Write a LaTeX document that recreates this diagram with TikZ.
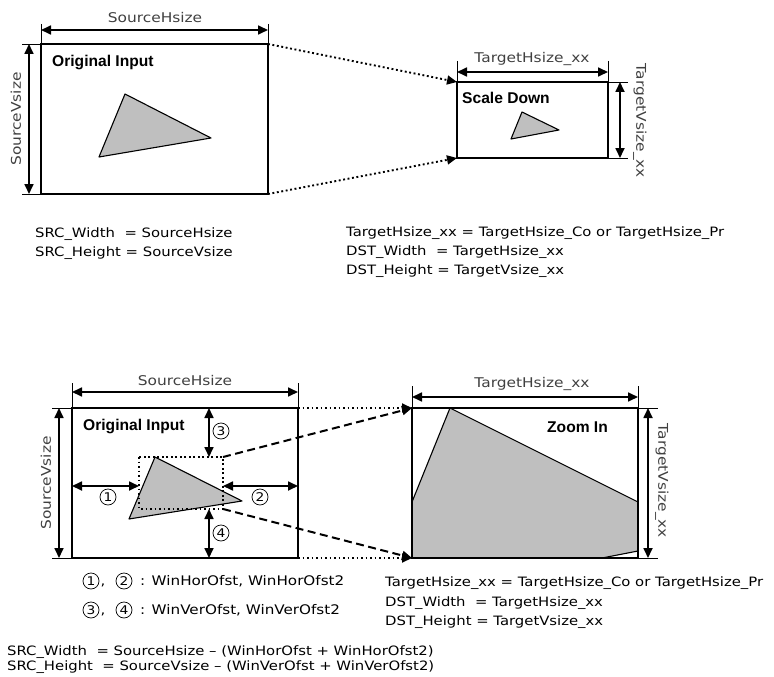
\documentclass[tikz,border=0pt]{standalone}
\usepackage{fontspec}
\setmainfont{DejaVu Sans}[FakeStretch=1.15]
\newfontfamily\titlefont{Liberation Sans}
\usetikzlibrary{arrows.meta,positioning}

\tikzset{
  tiphead/.style={-{Triangle[length=10pt,width=9pt]}},
  dim/.style={{Triangle[length=10pt,width=9pt]}-{Triangle[length=10pt,width=9pt]},line width=1.7pt},
  ext/.style={line width=0.9pt},
  boxline/.style={line width=1.3pt},
  dimlabel/.style={font=\fontsize{13.4}{14}\selectfont,text=black!75,inner sep=0pt},
  boxtitle/.style={font=\titlefont\fontsize{15.6}{16}\selectfont\bfseries,anchor=west,inner sep=0pt},
  eqn/.style={font=\fontsize{12.9}{14}\selectfont,anchor=west,inner sep=0pt},
  dotline/.style={line width=1.9pt,dash pattern=on 1.9pt off 2.6pt},
  dashline/.style={line width=2pt,dash pattern=on 8pt off 4.5pt},
  polyfill/.style={fill=black!25,draw,line width=1.1pt,line join=round},
  numcirc/.style={circle,draw,line width=0.7pt,minimum size=16pt,inner sep=0pt,font=\fontsize{12}{12}\selectfont}
}

\begin{document}
\begin{tikzpicture}[x=1pt,y=-1pt]
\useasboundingbox (0,0) rectangle (774,677);%

%% ---------- scale down ----------
\coordinate (s1TL) at (41,44); \coordinate (s1TR) at (268,44);%
\coordinate (s1BL) at (41,194); \coordinate (s1BR) at (268,194);%
\draw[boxline] (s1TL) rectangle (s1BR);%
\draw[polyfill] (125,94)--(211,138)--(99,157)--cycle;%
\node[boxtitle] (orig1) at (52,63) {Original Input};%
% width
\coordinate (s1hl) at (41,30); \coordinate (s1hr) at (268,30);%
\draw[ext] (41,24)--(s1TL); \draw[ext] (268,24)--(s1TR);%
\draw[dim] (s1hl)--(s1hr);%
\node[dimlabel] (srch1) at (155,18) {SourceHsize};%
% height
\coordinate (s1vt) at (29,44); \coordinate (s1vb) at (29,194);%
\draw[ext] (22,44)--(s1TL); \draw[ext] (22,194)--(s1BL);%
\draw[dim] (s1vt)--(s1vb);%
\node[dimlabel,rotate=90] (srcv1) at (16,119) {SourceVsize};%

\coordinate (d1TL) at (457,82); \coordinate (d1TR) at (608,82);%
\coordinate (d1BL) at (457,158); \coordinate (d1BR) at (608,158);%
\draw[boxline] (d1TL) rectangle (d1BR);%
\draw[polyfill] (522,112)--(559,130)--(511,139)--cycle;%
\node[boxtitle] (down) at (462,98) {Scale Down};%
\coordinate (d1hl) at (457,72); \coordinate (d1hr) at (608,72);%
\draw[ext] (457,61)--(d1TL); \draw[ext] (608,61)--(d1TR);%
\draw[dim] (d1hl)--(d1hr);%
\node[dimlabel] (dsth1) at (532,59) {TargetHsize\_xx};%
\coordinate (d1vt) at (620,82); \coordinate (d1vb) at (620,158);%
\draw[ext] (d1TR)--(628,82); \draw[ext] (d1BR)--(628,158);%
\draw[dim] (d1vt)--(d1vb);%
\node[dimlabel,rotate=-90] (dstv1) at (640,121) {TargetVsize\_xx};%

\draw[dotline,tiphead] (s1TR)--(d1TL);%
\draw[dotline,tiphead] (s1BR)--(d1BL);%

\node[eqn] (eq1) at (35,234) {SRC\_Width\ \ = SourceHsize};%
\node[eqn] (eq2) at (35,253) {SRC\_Height = SourceVsize};%
\node[eqn] (eq3) at (346,233) {TargetHsize\_xx = TargetHsize\_Co or TargetHsize\_Pr};%
\node[eqn] (eq4) at (346,252) {DST\_Width\ \ = TargetHsize\_xx};%
\node[eqn] (eq5) at (346,271) {DST\_Height = TargetVsize\_xx};%

%% ---------- zoom in ----------
\coordinate (s2TL) at (72,408); \coordinate (s2TR) at (298,408);%
\coordinate (s2BL) at (72,558); \coordinate (s2BR) at (298,558);%
\draw[boxline] (s2TL) rectangle (s2BR);%
\draw[polyfill] (155,457)--(242,501)--(129,519)--cycle;%
\coordinate (wTL) at (139,457); \coordinate (wTR) at (223,457);%
\coordinate (wBL) at (139,509); \coordinate (wBR) at (223,509);%
\draw[dotline] (wTL) rectangle (wBR);%
\node[boxtitle] (orig2) at (83,426) {Original Input};%
\coordinate (s2hl) at (72,392); \coordinate (s2hr) at (298,392);%
\draw[ext] (72,383)--(s2TL); \draw[ext] (298,383)--(s2TR);%
\draw[dim] (s2hl)--(s2hr);%
\node[dimlabel] (srch2) at (185,381) {SourceHsize};%
\coordinate (s2vt) at (59,408); \coordinate (s2vb) at (59,558);%
\draw[ext] (52,408)--(s2TL); \draw[ext] (52,558)--(s2BL);%
\draw[dim] (s2vt)--(s2vb);%
\node[dimlabel,rotate=90] (srcv2) at (46,483) {SourceVsize};%
% window offsets
\coordinate (o1l) at (72,486); \coordinate (o1r) at (139,486);%
\coordinate (o2l) at (223,486); \coordinate (o2r) at (298,486);%
\coordinate (o3t) at (209,408); \coordinate (o3b) at (209,457);%
\coordinate (o4t) at (209,509); \coordinate (o4b) at (209,558);%
\draw[dim] (o1l)--(o1r);%
\draw[dim] (o2l)--(o2r);%
\draw[dim] (o3t)--(o3b);%
\draw[dim] (o4t)--(o4b);%
\node[numcirc] (n1) at (108,497) {1};%
\node[numcirc] (n2) at (260,497) {2};%
\node[numcirc] (n3) at (221,431) {3};%
\node[numcirc] (n4) at (221,533) {4};%

\coordinate (d2TL) at (412,408); \coordinate (d2TR) at (638,408);%
\coordinate (d2BL) at (412,558); \coordinate (d2BR) at (638,558);%
\fill[black!25] (412,502)--(450,408)--(638,502)--(638,551)--(602,558)--(412,558)--cycle;%
\draw[line width=1.1pt,line join=round] (412,502)--(450,408)--(638,502);%
\draw[line width=1.1pt] (638,551)--(602,558);%
\draw[boxline] (d2TL) rectangle (d2BR);%
\node[boxtitle] (zoom) at (547,427) {Zoom In};%
\coordinate (d2hl) at (412,397); \coordinate (d2hr) at (638,397);%
\draw[ext] (412,386)--(d2TL); \draw[ext] (638,386)--(d2TR);%
\draw[dim] (d2hl)--(d2hr);%
\node[dimlabel] (dsth2) at (532,384) {TargetHsize\_xx};%
\coordinate (d2vt) at (648,408); \coordinate (d2vb) at (648,558);%
\draw[ext] (d2TR)--(658,408); \draw[ext] (d2BR)--(658,558);%
\draw[dim] (d2vt)--(d2vb);%
\node[dimlabel,rotate=-90] (dstv2) at (662,481) {TargetVsize\_xx};%

\draw[dotline,tiphead] (s2TR)--(d2TL);%
\draw[dotline,tiphead] (s2BR)--(d2BL);%
\draw[dashline,tiphead] (wTR)--(d2TL);%
\draw[dashline,tiphead] (wBR)--(d2BL);%

% offset legend
\node[numcirc] (l1) at (91,581) {1};%
\node[eqn,anchor=base west] (c1) at ([xshift=1pt]l1.east|-l1.base) {,};%
\node[numcirc] (l2) at (124,581) {2};%
\node[eqn,font=\fontsize{13.2}{14}\selectfont] (lt1) at (140,581) {: WinHorOfst, WinHorOfst2};%
\node[numcirc] (l3) at (91,610) {3};%
\node[eqn,anchor=base west] (c2) at ([xshift=1pt]l3.east|-l3.base) {,};%
\node[numcirc] (l4) at (124,610) {4};%
\node[eqn,font=\fontsize{13.2}{14}\selectfont] (lt2) at (140,610) {: WinVerOfst, WinVerOfst2};%

\node[eqn] (eq6) at (385,583) {TargetHsize\_xx = TargetHsize\_Co or TargetHsize\_Pr};%
\node[eqn] (eq7) at (385,603) {DST\_Width\ \ = TargetHsize\_xx};%
\node[eqn] (eq8) at (385,622) {DST\_Height = TargetVsize\_xx};%
\node[eqn] (eq9) at (7,652) {SRC\_Width\ \ = SourceHsize -- (WinHorOfst + WinHorOfst2)};%
\node[eqn] (eq10) at (7,667) {SRC\_Height\ \ = SourceVsize -- (WinVerOfst + WinVerOfst2)};%
\end{tikzpicture}
\end{document}
